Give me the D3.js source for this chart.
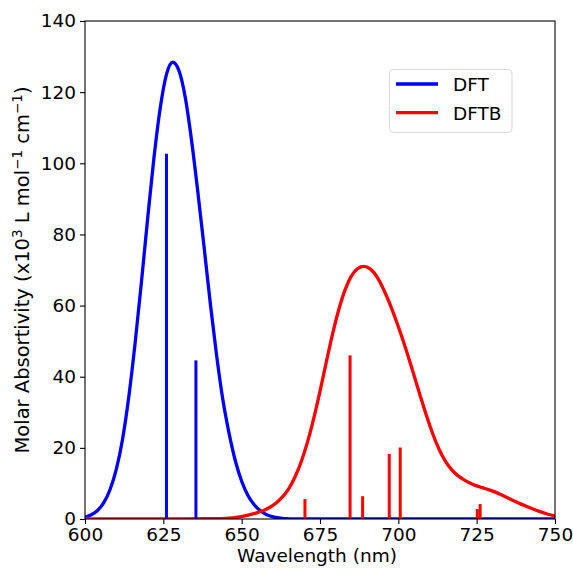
<!DOCTYPE html>
<html>
<head>
<meta charset="utf-8">
<script src="https://cdn.jsdelivr.net/npm/d3@7"></script>
<style>
  html, body { margin: 0; padding: 0; background: #fff; }
  svg { display: block; font-family: "DejaVu Sans", sans-serif; }
</style>
</head>
<body>
<svg id="chart" width="573" height="569"></svg>
<script>
// ---- Data ----
const xTicks = [600, 625, 650, 675, 700, 725, 750];
const yTicks = [0, 20, 40, 60, 80, 100, 120, 140];

const seriesNames = ["DFT", "DFTB"];
const seriesColors = ["#0000ff", "#ff0000"];

// Broadened spectra (wavelength nm, molar absorptivity x10^3)
const dftWl  = [600, 602, 604, 606, 608, 610, 612, 614, 616, 618, 620, 622, 624, 626, 628, 630, 632, 634, 636, 638, 640, 642, 644, 646, 648, 650, 652, 654, 656, 658, 660, 663, 667, 672, 750];
const dftVal = [0.5, 1.2, 2.4, 4.6, 8.3, 14.0, 22.5, 34.5, 49.5, 66.5, 84.5, 101.5, 115.5, 125, 128.4, 126, 118.5, 106.5, 92, 76.5, 60.5, 46, 33.5, 24, 16.3, 10.6, 6.6, 4.0, 2.3, 1.2, 0.6, 0.2, 0.05, 0, 0];

const dftbWl  = [600, 630, 640, 645, 647, 649, 651, 653, 655, 657, 659, 661, 663, 665, 667, 669, 671, 673, 675, 677, 679, 681, 683, 685, 687, 689, 691, 693, 695, 697, 699, 701, 703, 705, 707, 709, 711, 713, 715, 717, 719, 721, 723, 725, 727, 729, 731, 733, 735, 737, 739, 741, 743, 745, 747, 749, 750];
const dftbVal = [0, 0.01, 0.07, 0.2, 0.3, 0.55, 0.85, 1.3, 1.8, 2.4, 3.3, 4.5, 6.2, 8.5, 11.8, 16.1, 21.6, 28.3, 35.9, 44.1, 52.0, 58.9, 64.4, 68.3, 70.4, 71.0, 70.3, 68.3, 65.1, 61.1, 56.5, 51.5, 46.1, 40.4, 34.6, 29.0, 23.9, 19.6, 16.3, 13.9, 12.2, 11.0, 10.05, 9.3, 8.75, 8.2, 7.55, 6.75, 5.9, 5.05, 4.25, 3.5, 2.8, 2.15, 1.55, 1.05, 0.85];

// Stick spectra (transition wavelength, intensity)
const dftStickWl  = [626.0, 635.4];
const dftStickVal = [102.7, 44.6];
const dftbStickWl  = [670.2, 684.6, 688.6, 697.1, 700.6, 725.2, 726.1];
const dftbStickVal = [5.6, 46.0, 6.4, 18.3, 20.1, 2.8, 4.2];

// ---- Layout ----
const W = 573, H = 569;
const margin = { left: 85, right: W - 555, top: 21, bottom: H - 519 };
const svg = d3.select("#chart");

const x = d3.scaleLinear().domain([600, 750]).range([margin.left, W - margin.right]);
const y = d3.scaleLinear().domain([0, 140]).range([H - margin.bottom, margin.top]);

svg.append("defs").append("clipPath").attr("id", "plotclip")
  .append("rect")
  .attr("x", x(600)).attr("y", y(140))
  .attr("width", x(750) - x(600)).attr("height", y(0) - y(140));

const plot = svg.append("g").attr("clip-path", "url(#plotclip)");

const line = d3.line().x(d => x(d[0])).y(d => y(d[1])).curve(d3.curveMonotoneX);

const curves = [d3.zip(dftWl, dftVal), d3.zip(dftbWl, dftbVal)];
const sticks = [d3.zip(dftStickWl, dftStickVal), d3.zip(dftbStickWl, dftbStickVal)];

curves.forEach((c, i) => {
  plot.append("path").datum(c)
    .attr("fill", "none")
    .attr("stroke", seriesColors[i])
    .attr("stroke-width", 3.3)
    .attr("stroke-linejoin", "round")
    .attr("d", line);
});

sticks.forEach((s, i) => {
  plot.selectAll(null).data(s).enter().append("line")
    .attr("x1", d => x(d[0])).attr("x2", d => x(d[0]))
    .attr("y1", y(0)).attr("y2", d => y(d[1]))
    .attr("stroke", seriesColors[i])
    .attr("stroke-width", 3);
});

// ---- Axes ----
const tickFont = "18.5px";
const xAxis = d3.axisBottom(x).tickValues(xTicks).tickSize(5).tickPadding(4).tickFormat(d3.format("d"));
const yAxis = d3.axisLeft(y).tickValues(yTicks).tickSize(5).tickPadding(4).tickFormat(d3.format("d"));

const gx = svg.append("g").attr("transform", `translate(0,${y(0)})`).call(xAxis);
const gy = svg.append("g").attr("transform", `translate(${x(600)},0)`).call(yAxis);
[gx, gy].forEach(g => {
  g.select(".domain").remove();
  g.selectAll(".tick line").attr("stroke", "#000").attr("stroke-width", 1.1);
  g.selectAll(".tick text").attr("fill", "#000").style("font-size", tickFont)
    .style("font-family", "'DejaVu Sans', sans-serif");
});

// frame
svg.append("rect")
  .attr("x", x(600)).attr("y", y(140))
  .attr("width", x(750) - x(600)).attr("height", y(0) - y(140))
  .attr("fill", "none").attr("stroke", "#000").attr("stroke-width", 1.1);

// axis labels
svg.append("text")
  .attr("x", (x(600) + x(750)) / 2 - 3).attr("y", 562)
  .attr("text-anchor", "middle")
  .style("font-size", "18.5px")
  .text("Wavelength (nm)");

const yl = svg.append("text")
  .attr("transform", `translate(29,${(y(0) + y(140)) / 2}) rotate(-90)`)
  .attr("text-anchor", "middle")
  .style("font-size", "19.5px");
const supSize = "13.5px";
yl.append("tspan").text("Molar Absortivity (x10");
yl.append("tspan").attr("dy", -7.5).style("font-size", supSize).text("3");
yl.append("tspan").attr("dy", 7.5).text(" L mol");
yl.append("tspan").attr("dy", -7.5).style("font-size", supSize).text("\u22121");
yl.append("tspan").attr("dy", 7.5).text(" cm");
yl.append("tspan").attr("dy", -7.5).style("font-size", supSize).text("\u22121");
yl.append("tspan").attr("dy", 7.5).text(")");

// ---- Legend ----
const lg = svg.append("g");
lg.append("rect")
  .attr("x", 389.5).attr("y", 69.5).attr("width", 122.5).attr("height", 63)
  .attr("rx", 4).attr("fill", "#fff").attr("fill-opacity", 0.8)
  .attr("stroke", "#d9d9d9").attr("stroke-width", 1);
seriesNames.forEach((name, i) => {
  const cy = 84 + i * 28.7;
  lg.append("line")
    .attr("x1", 396).attr("x2", 438).attr("y1", cy).attr("y2", cy)
    .attr("stroke", seriesColors[i]).attr("stroke-width", 3.3);
  lg.append("text")
    .attr("x", 453).attr("y", cy + 6.8)
    .style("font-size", "18.5px")
    .text(name);
});
</script>
</body>
</html>
